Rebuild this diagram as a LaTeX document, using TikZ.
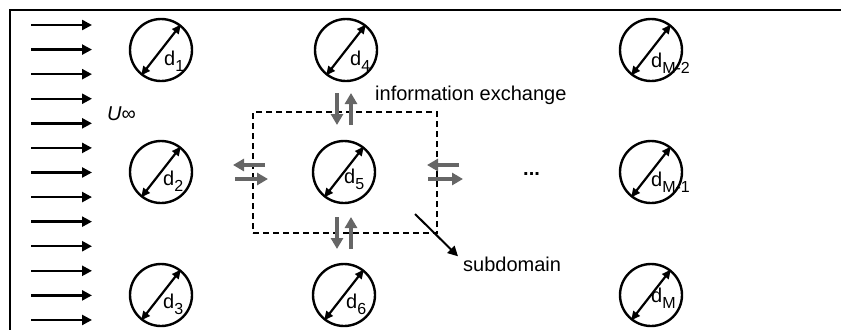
\documentclass[tikz,border=0pt]{standalone}
\usepackage{fontspec}
\setmainfont{Liberation Sans}
\usetikzlibrary{arrows.meta}
\definecolor{exchange}{HTML}{666666}
\newcommand{\dsub}[1]{d\raisebox{-6pt}{\fontsize{16}{16}\selectfont #1}}

\begin{document}
\begin{tikzpicture}[x=1pt, y=-1pt,
    flow/.style={line width=2.4pt, -{Triangle[length=10pt, width=10pt]}},
    cyl/.style={draw, circle, line width=2.4pt, minimum size=62pt, inner sep=0pt},
    diam/.style={line width=2.2pt, {Triangle[length=9pt, width=8pt]}-{Triangle[length=9pt, width=8pt]}},
    lbl/.style={anchor=base west, inner sep=0pt, font=\fontsize{20}{24}\selectfont},
    info/.style={line width=3.6pt, color=exchange, -{Triangle[length=11pt, width=12pt]}},
    subbox/.style={draw, dash pattern=on 6pt off 4pt, line width=2.4pt, minimum width=184pt, minimum height=121pt, inner sep=0pt}]
        \useasboundingbox (0,0) rectangle (841,330);
        % Marco del dominio
        \draw[line width=2.6pt] (841,10) -- (10,10) -- (10,330);
        % Flujo de entrada
        \foreach \i in {0,...,12}
            \draw[flow] (31,{25+24.58*\i}) -- ++(61,0);
        \node[lbl] (uinf) at (107,120) {\textit{U}∞};
        % Cilindros con su diametro
        \foreach \n/\x/\y/\dx/\dy/\s in {1/161/50/3/15/1, 2/161/172/2/13/2, 3/161/295/2/13/3,
                4/346/50/4/15/4, 5/344/172/0/11/5, 6/344/295/2/13/6,
                7/651/50/0/17/M-2, 8/651/172/0/14/M-1, 9/651/295/0/7/M} {
            \node[cyl] (c\n) at (\x,\y) {};
            \draw[diam] (c\n.232) -- (c\n.52);
            \node[lbl, xshift=\dx pt, yshift=-\dy pt] (d\n) at (c\n) {\dsub{\s}};
        }
        \node[lbl] (dots) at (523,175) {\textbf{...}};
        % Subdominio
        \node[subbox] (dom) at (345,172.5) {};
        % Intercambio de informacion
        \draw[info] (337,93) -- (337,125);
        \draw[info] (351,125) -- (351,93);
        \draw[info] (337,217) -- (337,249);
        \draw[info] (351,249) -- (351,217);
        \draw[info] (265,165) -- (233,165);
        \draw[info] (235,179) -- (268,179);
        \draw[info] (459,165) -- (427,165);
        \draw[info] (428,179) -- (463,179);
        \node[lbl] (info) at (375,100) {information exchange};
        % Nota del subdominio
        \node[lbl] (sublbl) at (463,271) {subdomain};
        \coordinate (subtail) at (415,214);
        \draw[flow, line width=2pt] (subtail) -- ([xshift=-5pt]sublbl.north west);
\end{tikzpicture}
\end{document}
